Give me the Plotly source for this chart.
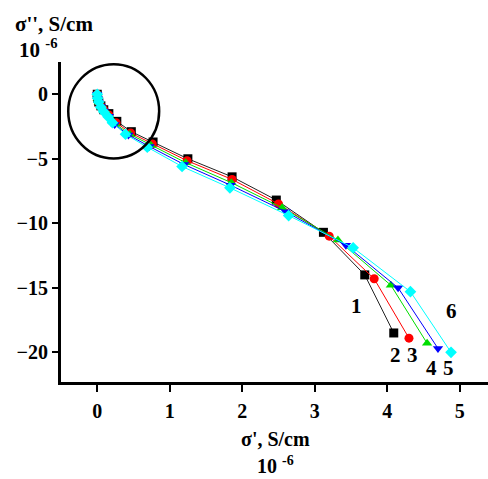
import plotly.graph_objects as go

# Data (units of 1e-6 S/cm)
x1 = [0, 0.005, 0.02, 0.05, 0.09, 0.16, 0.27, 0.47, 0.77, 1.25, 1.86, 2.47, 3.12, 3.69, 4.09]
y1 = [0, -0.3, -0.6, -0.9, -1.2, -1.5, -2.1, -2.9, -3.7, -5.0, -6.4, -8.2, -10.7, -14.0, -18.5]
x2 = [0, 0.005, 0.02, 0.05, 0.09, 0.16, 0.26, 0.46, 0.76, 1.24, 1.86, 2.50, 3.20, 3.82, 4.30]
y2 = [0, -0.3, -0.6, -0.9, -1.2, -1.6, -2.2, -3.0, -3.85, -5.15, -6.6, -8.5, -11.0, -14.3, -18.9]
x3 = [0, 0.005, 0.02, 0.05, 0.09, 0.16, 0.25, 0.45, 0.74, 1.22, 1.85, 2.55, 3.32, 4.05, 4.55]
y3 = [0, -0.3, -0.6, -0.95, -1.25, -1.65, -2.3, -3.1, -3.95, -5.3, -6.85, -8.8, -11.3, -14.8, -19.3]
x4 = [0, 0.005, 0.02, 0.05, 0.09, 0.16, 0.24, 0.43, 0.72, 1.20, 1.84, 2.60, 3.43, 4.15, 4.70]
y4 = [0, -0.3, -0.6, -0.95, -1.3, -1.7, -2.35, -3.15, -4.05, -5.45, -7.05, -9.1, -11.7, -15.0, -19.7]
x5 = [0, 0.005, 0.02, 0.05, 0.09, 0.15, 0.21, 0.39, 0.69, 1.17, 1.83, 2.64, 3.53, 4.32, 4.88]
y5 = [0, -0.3, -0.6, -1.0, -1.35, -1.75, -2.2, -3.1, -4.1, -5.6, -7.25, -9.4, -11.9, -15.3, -20.0]

series = [
    (x1, y1, "#222222", "black", "square"),
    (x2, y2, "red", "red", "circle"),
    (x3, y3, "#00dd00", "#00dd00", "triangle-up"),
    (x4, y4, "blue", "blue", "triangle-down"),
    (x5, y5, "cyan", "cyan", "diamond"),
]

labels = ["1", "2", "3", "4", "5", "6"]
label_x = [3.57, 4.12, 4.35, 4.61, 4.85, 4.88]
label_y = [-16.4, -20.2, -20.2, -21.2, -21.2, -16.8]

xticks = [0, 1, 2, 3, 4, 5]
yticks = [0, -5, -10, -15, -20]

FONT = "Liberation Serif"

fig = go.Figure()
for xs, ys, lc, mc, sym in series:
    fig.add_trace(go.Scatter(
        x=xs, y=ys, mode="lines+markers",
        line=dict(color=lc, width=1),
        marker=dict(symbol=sym, color=mc, size=9),
        showlegend=False,
    ))

for t, lx, ly in zip(labels, label_x, label_y):
    fig.add_annotation(x=lx, y=ly, xref="x", yref="y", text="<b>%s</b>" % t,
                       showarrow=False, font=dict(family=FONT, size=21, color="black"))

# circle highlighting the low-frequency region
fig.add_shape(type="circle", xref="x", yref="y", x0=-0.40, x1=0.854, y0=-4.98, y1=2.33,
              line=dict(color="black", width=2.5))

fig.add_annotation(x=13, y=24, xref="paper", yref="paper", text="<b>σ'', S/cm</b>",
                   showarrow=False, xanchor="left", yanchor="middle",
                   font=dict(family=FONT, size=21, color="black"))
fig.add_annotation(x=17, y=48, xref="paper", yref="paper", text="<b>10 <sup>-6</sup></b>",
                   showarrow=False, xanchor="left", yanchor="middle",
                   font=dict(family=FONT, size=21, color="black"))
fig.add_annotation(x=275, y=439, xref="paper", yref="paper", text="<b>σ', S/cm</b>",
                   showarrow=False, xanchor="center", yanchor="middle",
                   font=dict(family=FONT, size=20, color="black"))
fig.add_annotation(x=275, y=465, xref="paper", yref="paper", text="<b>10 <sup>-6</sup></b>",
                   showarrow=False, xanchor="center", yanchor="middle",
                   font=dict(family=FONT, size=20, color="black"))

# convert pixel-positioned annotations to paper coordinates
L, R, T, B = 61, 0, 62, 97
W, H = 488, 479
pw, ph = W - L - R, H - T - B
for a in fig.layout.annotations:
    if a.xref == "paper":
        a.x = (a.x - L) / pw
        a.y = 1 - (a.y - T) / ph

tf = dict(family=FONT, size=20, color="black", weight="bold")
fig.update_xaxes(range=[-0.5, 5.39], tickvals=xticks, ticks="outside", ticklen=7,
                 tickwidth=1.5, tickcolor="black", showline=True, linecolor="black",
                 linewidth=3, showgrid=False, zeroline=False,
                 tickfont=tf, ticklabelstandoff=2)
fig.update_yaxes(range=[-22.3, 2.5], tickvals=yticks, ticks="outside", ticklen=6,
                 tickwidth=1.5, tickcolor="black", showline=True, linecolor="black",
                 linewidth=3, showgrid=False, zeroline=False,
                 tickfont=tf)

fig.update_layout(width=W, height=H, margin=dict(l=L, r=R, t=T, b=B),
                  plot_bgcolor="white", paper_bgcolor="white")

fig.write_html("out.html")
